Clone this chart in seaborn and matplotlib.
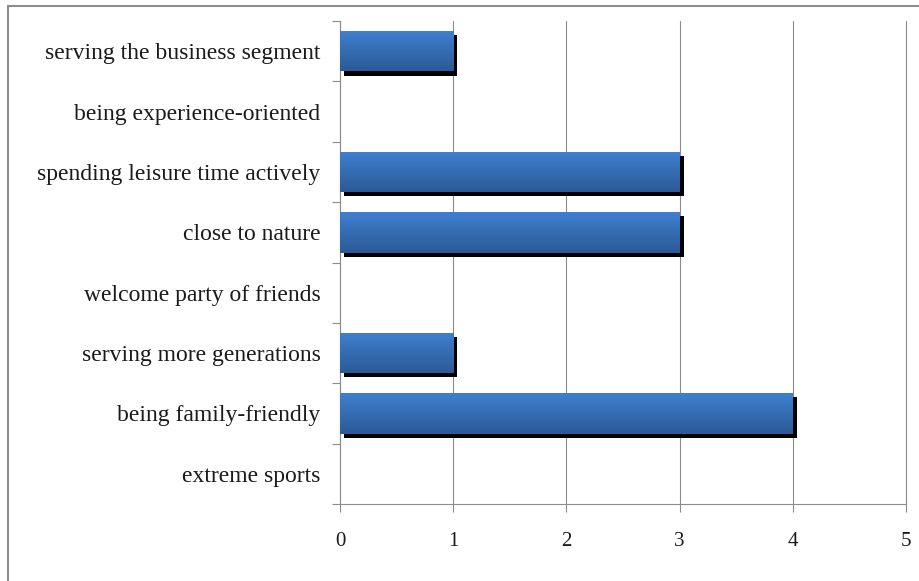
import numpy as np
import pandas as pd
import seaborn as sns
import matplotlib.pyplot as plt
import matplotlib.patheffects as pe
from matplotlib.colors import LinearSegmentedColormap
from matplotlib.patches import Rectangle

# dados do gráfico (de cima para baixo)
categories = ['serving the business segment', 'being experience-oriented',
              'spending leisure time actively', 'close to nature',
              'welcome party of friends', 'serving more generations',
              'being family-friendly', 'extreme sports']
values = [1, 0, 3, 3, 0, 1, 4, 0]
x_ticks = [0, 1, 2, 3, 4, 5]

df = pd.DataFrame({'category': categories, 'value': values})

sns.set_style('white')
plt.rcParams['font.family'] = ['Liberation Serif', 'DejaVu Serif']

fig = plt.figure(figsize=(9.2, 5.81), dpi=100)
ax = fig.add_axes([340 / 920, 1 - 504 / 581, (906 - 340) / 920, (504 - 21) / 581])

sns.barplot(data=df, y='category', x='value', orient='h', color='#3a76c4',
            width=0.67, ax=ax, zorder=3)

grad = LinearSegmentedColormap.from_list('bar', ['#3e80d0', '#2c5a96'])
for patch in ax.patches:
    patch.set_linewidth(0)
    if patch.get_width() <= 0:
        patch.set_visible(False)
        continue
    patch.set_path_effects([pe.SimplePatchShadow(offset=(3, -3), shadow_rgbFace='black', alpha=1),
                            pe.Normal()])
    x0, y0 = patch.get_x(), patch.get_y()
    w, h = patch.get_width(), patch.get_height()
    img = ax.imshow(np.linspace(0, 1, 64).reshape(-1, 1), cmap=grad, aspect='auto',
                    extent=[x0, x0 + w, y0 + h, y0], zorder=4, interpolation='bilinear')
    img.set_clip_path(patch)

ax.set_xlim(0, 5)
ax.set_ylim(len(categories) - 0.5, -0.5)
ax.set_xticks(x_ticks)
ax.set_xticklabels([str(t) for t in x_ticks])
ax.set_xlabel('')
ax.set_ylabel('')

# grade vertical
ax.grid(axis='x', color='#8c8c8c', linewidth=0.8, zorder=0)
for gl in ax.get_xgridlines():
    gl.set_clip_on(False)
ax.set_axisbelow(True)

for side in ['top', 'right']:
    ax.spines[side].set_visible(False)
for side in ['left', 'bottom']:
    ax.spines[side].set_color('#8c8c8c')
    ax.spines[side].set_linewidth(0.8)

ax.tick_params(axis='y', which='major', left=True, length=0, pad=14, labelsize=17,
               labelcolor='#1a1a1a')
ax.set_yticks(np.arange(-0.5, len(categories), 1), minor=True)
ax.tick_params(axis='y', which='minor', left=True, length=6, width=0.8, color='#8c8c8c',
               direction='out')
ax.tick_params(axis='x', bottom=True, length=6, width=0.8, color='#8c8c8c', direction='out',
               pad=14, labelsize=15, labelcolor='#1a1a1a')

# moldura da figura
fig.patches.append(Rectangle((8 / 920, -0.1), 1.2, 1 - 6 / 581 + 0.1, transform=fig.transFigure,
                             fill=False, edgecolor='#8c8c8c', linewidth=1.5))

fig.savefig('out.png', dpi=100)
